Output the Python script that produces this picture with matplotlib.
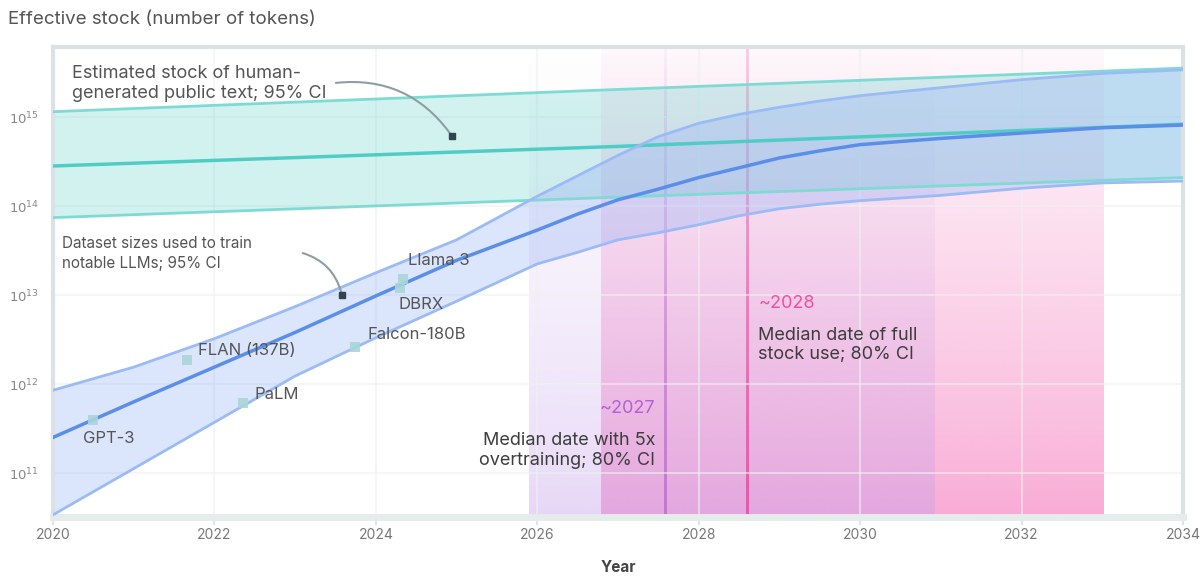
import numpy as np
import matplotlib
matplotlib.use('Agg')
import matplotlib.pyplot as plt
from matplotlib.ticker import FixedLocator, FuncFormatter

plt.rcParams['font.family'] = ['Inter', 'DejaVu Sans']

# stock of human-generated public text (log10 tokens), 95% CI
years_stock = [2020, 2027, 2034]
stock_lo_log = [13.87, 14.10, 14.32]
stock_mid_log = [14.45, 14.67, 14.92]
stock_hi_log = [15.06, 15.31, 15.55]

# dataset sizes of notable LLMs, trend + projection (log10 tokens), 95% CI
years_ds = [2020, 2021, 2022, 2023, 2024, 2025, 2026, 2026.5, 2027, 2027.5,
            2028, 2028.5, 2029, 2029.5, 2030, 2031, 2032, 2033, 2034]
ds_lo_log = [10.53, 11.05, 11.57, 12.09, 12.52, 12.93, 13.35, 13.48, 13.62, 13.70,
             13.79, 13.89, 13.97, 14.02, 14.06, 14.12, 14.20, 14.26, 14.28]
ds_mid_log = [11.40, 11.80, 12.19, 12.58, 12.99, 13.39, 13.73, 13.91, 14.07, 14.19,
              14.32, 14.43, 14.54, 14.62, 14.69, 14.76, 14.82, 14.88, 14.91]
ds_hi_log = [11.93, 12.19, 12.51, 12.87, 13.25, 13.62, 14.11, 14.34, 14.57, 14.78,
             14.93, 15.03, 15.11, 15.18, 15.24, 15.33, 15.42, 15.49, 15.53]

# individual models
models = ['GPT-3', 'FLAN (137B)', 'PaLM', 'Falcon-180B', 'DBRX', 'Llama 3']
model_dates = [2020.50, 2021.66, 2022.35, 2023.74, 2024.30, 2024.34]
model_tokens_log = [11.60, 12.27, 11.79, 12.42, 13.08, 13.18]
label_offsets = [(-10, -19), (11, 10), (12, 8), (13, 12), (-2, -17), (5, 19)]

# date when the stock gets fully used
overtrain_ci = (2025.90, 2030.93)
overtrain_median = 2027.58
fullstock_ci = (2026.79, 2033.01)
fullstock_median = 2028.60

TEAL = '#4fcdc5'
TEAL_EDGE = '#80dad4'
BLUE = '#5b8ee9'
BLUE_EDGE = '#9bbbf6'
BLUE_FILL = '#98b5f6'
PURPLE = '#c7a3ec'
PINK = '#f788c4'
TEXT = '#3d3d3d'
LABEL = '#555555'

fig = plt.figure(figsize=(12.04, 5.76), dpi=100)
rect = [53 / 1204, 59 / 576, 1130 / 1204, 470 / 576]

# background axes for the vertical gradients
bg = fig.add_axes(rect, zorder=0)
bg.axis('off')


def gradient(x0, x1, color, a_top, a_bot, power=1.0):
    rgb = matplotlib.colors.to_rgb(color)
    t = np.linspace(0, 1, 256)  # 0 bottom, 1 top
    alpha = a_bot + (a_top - a_bot) * t ** power
    img = np.zeros((256, 1, 4))
    img[:, 0, :3] = rgb
    img[:, 0, 3] = alpha
    bg.imshow(img, extent=(x0, x1, 0, 1), origin='lower', aspect='auto',
              interpolation='bilinear')


gradient(*fullstock_ci, PINK, 0.06, 0.72, power=0.8)
gradient(*overtrain_ci, PURPLE, 0.0, 0.45, power=0.7)
gradient(overtrain_median - 0.013, overtrain_median + 0.013, '#c070d8', 0.05, 0.9)
gradient(fullstock_median - 0.013, fullstock_median + 0.013, '#f050a8', 0.25, 0.95)
bg.set_xlim(2020, 2034)
bg.set_ylim(0, 1)

ax = fig.add_axes(rect, zorder=1)
ax.patch.set_alpha(0)
ax.set_yscale('log')

ys = np.array(years_stock)
ax.fill_between(ys, 10 ** np.array(stock_lo_log), 10 ** np.array(stock_hi_log),
                color=TEAL, alpha=0.25, lw=0, zorder=2)
ax.plot(ys, 10 ** np.array(stock_lo_log), color=TEAL_EDGE, lw=2, zorder=3)
ax.plot(ys, 10 ** np.array(stock_hi_log), color=TEAL_EDGE, lw=2, zorder=3)
ax.plot(ys, 10 ** np.array(stock_mid_log), color=TEAL, lw=2.5, zorder=3)

yd = np.array(years_ds)
ax.fill_between(yd, 10 ** np.array(ds_lo_log), 10 ** np.array(ds_hi_log),
                color=BLUE_FILL, alpha=0.35, lw=0, zorder=2.5)
ax.plot(yd, 10 ** np.array(ds_lo_log), color=BLUE_EDGE, lw=2, zorder=3.5)
ax.plot(yd, 10 ** np.array(ds_hi_log), color=BLUE_EDGE, lw=2, zorder=3.5)
ax.plot(yd, 10 ** np.array(ds_mid_log), color=BLUE, lw=2.5, zorder=3.5)

ax.scatter(model_dates, 10 ** np.array(model_tokens_log), s=50, marker='s',
           color='#a9d6d8', alpha=0.9, lw=0, zorder=4)
for name, x, v, off in zip(models, model_dates, model_tokens_log, label_offsets):
    ax.annotate(name, (x, 10 ** v), xytext=off, textcoords='offset pixels',
                ha='left', va='center', fontsize=12, color=LABEL, zorder=5)

# annotations
ax.text(2020.24, 10 ** 15.38, 'Estimated stock of human-\ngenerated public text; 95% CI',
        ha='left', va='center', fontsize=13, color=LABEL, linespacing=1.2, zorder=5)
ax.annotate('', xy=(2024.94, 10 ** 14.79), xytext=(2023.47, 10 ** 15.38),
            arrowprops=dict(arrowstyle='-', color='#8d9ea3', lw=1.5,
                            connectionstyle='arc3,rad=-0.3'), zorder=5)
ax.plot(2024.94, 10 ** 14.79, marker='s', ms=5, color='#33454c', zorder=6)

ax.text(2020.11, 10 ** 13.47, 'Dataset sizes used to train\nnotable LLMs; 95% CI',
        ha='left', va='center', fontsize=11, color=LABEL, linespacing=1.45, zorder=5)
ax.annotate('', xy=(2023.58, 10 ** 13.0), xytext=(2023.06, 10 ** 13.48),
            arrowprops=dict(arrowstyle='-', color='#8d9ea3', lw=1.5,
                            connectionstyle='arc3,rad=-0.3'), zorder=5)
ax.plot(2023.58, 10 ** 13.0, marker='s', ms=5, color='#33454c', zorder=6)

ax.text(overtrain_median - 0.12, 10 ** 11.73, '~2027', ha='right', va='center',
        fontsize=13, color='#b45fd6', zorder=5)
ax.text(overtrain_median - 0.12, 10 ** 11.25, 'Median date with 5x\novertraining; 80% CI',
        ha='right', va='center', fontsize=13, color=TEXT, linespacing=1.2, zorder=5)
ax.text(fullstock_median + 0.135, 10 ** 12.90, '~2028', ha='left', va='center',
        fontsize=13, color='#f0509f', zorder=5)
ax.text(fullstock_median + 0.135, 10 ** 12.44, 'Median date of full\nstock use; 80% CI',
        ha='left', va='center', fontsize=13, color=TEXT, linespacing=1.2, zorder=5)

# axes styling
ax.set_xlim(2020, 2034)
ax.set_ylim(10 ** 10.506, 10 ** 15.787)
ax.xaxis.set_major_locator(FixedLocator(range(2020, 2035, 2)))
ax.yaxis.set_major_locator(FixedLocator([1e11, 1e12, 1e13, 1e14, 1e15]))
ax.yaxis.set_minor_locator(FixedLocator([]))
ax.yaxis.set_major_formatter(FuncFormatter(lambda v, p: '$10^{%d}$' % round(np.log10(v))))
ax.grid(True, color='#edf1f2', lw=1.5, alpha=0.6, zorder=1)
ax.set_axisbelow(True)
ax.tick_params(axis='x', length=6, width=1.5, color='#dfe5e7', labelsize=10,
               labelcolor='#777777', pad=2)
ax.tick_params(axis='y', length=0, labelsize=9.5, labelcolor='#888888', pad=10)
for side, sp in ax.spines.items():
    sp.set_color('#dbe2e5')
    sp.set_linewidth(3)
ax.spines['bottom'].set_color('#e6ebec')
ax.spines['bottom'].set_linewidth(5)

ax.set_xlabel('Year', fontsize=11, color='#444444', fontweight='bold', labelpad=13)
fig.text(8 / 1204, 1 - 20 / 576, 'Effective stock (number of tokens)', ha='left',
         va='center', fontsize=13.5, color=LABEL)

fig.savefig('out.png', dpi=100)
